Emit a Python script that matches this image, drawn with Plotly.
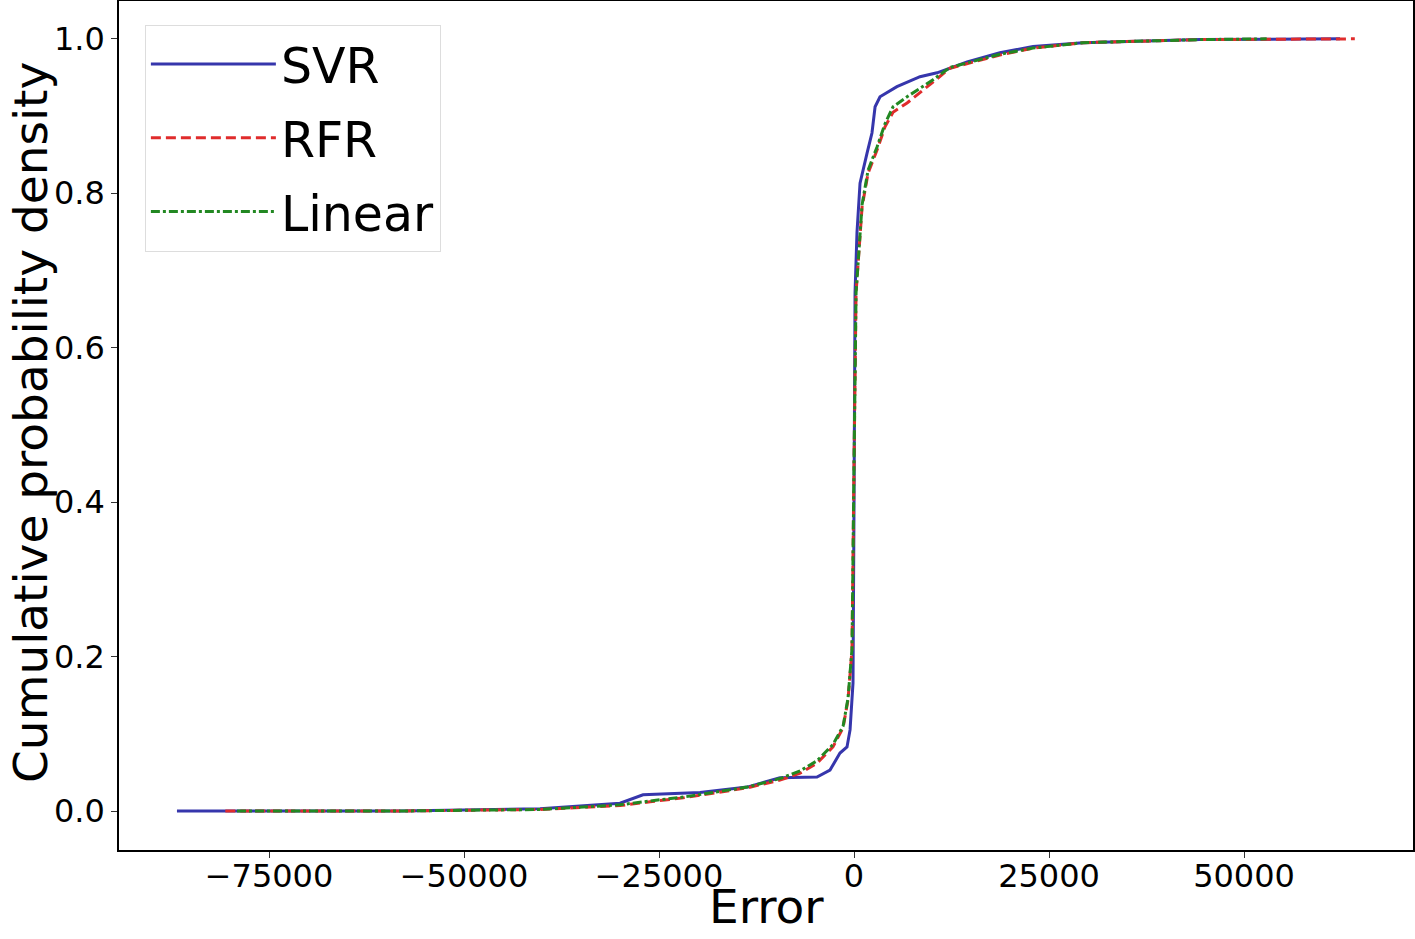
import plotly.graph_objects as go

svr_err = [-86800, -58200, -40250, -30000, -27050, -19750, -13700, -9500, -4750, -3080,
           -1800, -900, -510, -130, 0, 130, 380, 770, 1670, 2300, 2700, 3330, 5500,
           8460, 10640, 14500, 18700, 22950, 29350, 35770, 44350, 62300]
svr_cdf = [0.0, 0.0, 0.003, 0.010, 0.021, 0.024, 0.031, 0.043, 0.044, 0.053,
           0.075, 0.083, 0.105, 0.166, 0.40, 0.671, 0.749, 0.813, 0.852, 0.878, 0.912, 0.925, 0.938,
           0.951, 0.956, 0.970, 0.982, 0.990, 0.995, 0.997, 0.999, 1.0]

rfr_err = [-80600, -58200, -40250, -30000, -26150, -21900, -13700, -9500, -6900, -4750,
           -2700, -1400, -770, -260, 0, 260, 1030, 1800, 2950, 3970, 5000, 6800,
           10130, 12300, 18700, 22950, 29350, 44350, 64200]
rfr_cdf = [0.0, 0.0, 0.002, 0.007, 0.012, 0.017, 0.030, 0.040, 0.049, 0.062,
           0.083, 0.108, 0.144, 0.209, 0.45, 0.671, 0.782, 0.826, 0.856, 0.886, 0.905, 0.917,
           0.944, 0.962, 0.979, 0.988, 0.995, 0.999, 1.0]

lin_err = [-79100, -58200, -40250, -30000, -26150, -21900, -13700, -9500, -6900, -4750,
           -2700, -1400, -770, -260, 0, 260, 1030, 1800, 2950, 3970, 5000, 6800,
           10130, 12300, 18700, 22950, 29350, 44350, 52900]
lin_cdf = [0.0, 0.0, 0.002, 0.008, 0.013, 0.018, 0.031, 0.042, 0.052, 0.065,
           0.086, 0.110, 0.146, 0.210, 0.45, 0.671, 0.785, 0.830, 0.860, 0.890, 0.912, 0.925,
           0.947, 0.963, 0.980, 0.988, 0.995, 0.999, 1.0]

x_ticks = [-75000, -50000, -25000, 0, 25000, 50000]
x_ticktext = ["\u221275000", "\u221250000", "\u221225000", "0", "25000", "50000"]
y_ticks = [0.0, 0.2, 0.4, 0.6, 0.8, 1.0]

_FONT = "DejaVu Sans, Liberation Sans, sans-serif"

fig = go.Figure()
fig.add_trace(go.Scatter(x=svr_err, y=svr_cdf, mode="lines", name="SVR", legendgroup="svr",
                         line=dict(color="#3636ac", width=3)))
fig.add_trace(go.Scatter(x=rfr_err, y=rfr_cdf, mode="lines", name="RFR", legendgroup="rfr",
                         line=dict(color="#e02c2c", width=3, dash="10px,5px")))
fig.add_trace(go.Scatter(x=lin_err, y=lin_cdf, mode="lines", name="Linear", legendgroup="lin",
                         line=dict(color="#228822", width=3, dash="dashdot")))

axis_common = dict(
    showline=True, linecolor="black", linewidth=1.5, mirror=True,
    showgrid=False, zeroline=False, automargin=False,
    ticks="outside", ticklen=6, tickwidth=1, tickcolor="#333333",
    tickfont=dict(size=32, color="black", family=_FONT),
)

fig.update_layout(
    width=1415, height=939,
    margin=dict(l=119, r=2, t=1, b=89),
    paper_bgcolor="white", plot_bgcolor="white",
    font=dict(family=_FONT, color="black"),
    xaxis=dict(range=[-94230, 71660], tickvals=x_ticks, ticktext=x_ticktext,
               ticklabelstandoff=-9, **axis_common),
    yaxis=dict(range=[-0.0505, 1.049], tickvals=y_ticks, tickformat=".1f", **axis_common),
    legend=dict(x=0.02, y=0.972, xanchor="left", yanchor="top",
                bgcolor="white", bordercolor="#dddddd", borderwidth=1,
                font=dict(size=49, color="black"), itemwidth=125,
                traceorder="grouped", tracegroupgap=7),
    showlegend=True,
)

# axis titles as annotations so they sit where the reference has them
fig.add_annotation(text="Error", xref="paper", yref="paper", x=0.5, y=-0.066,
                   xanchor="center", yanchor="middle", showarrow=False,
                   font=dict(size=47, color="black"))
fig.add_annotation(text="Cumulative probability density", xref="paper", yref="paper",
                   x=-0.068, y=0.503, xanchor="center", yanchor="middle", textangle=-90,
                   showarrow=False, font=dict(size=47, color="black"))

fig.write_html("out.html", config={"displayModeBar": False},
               post_script="document.body.style.margin='0';")
